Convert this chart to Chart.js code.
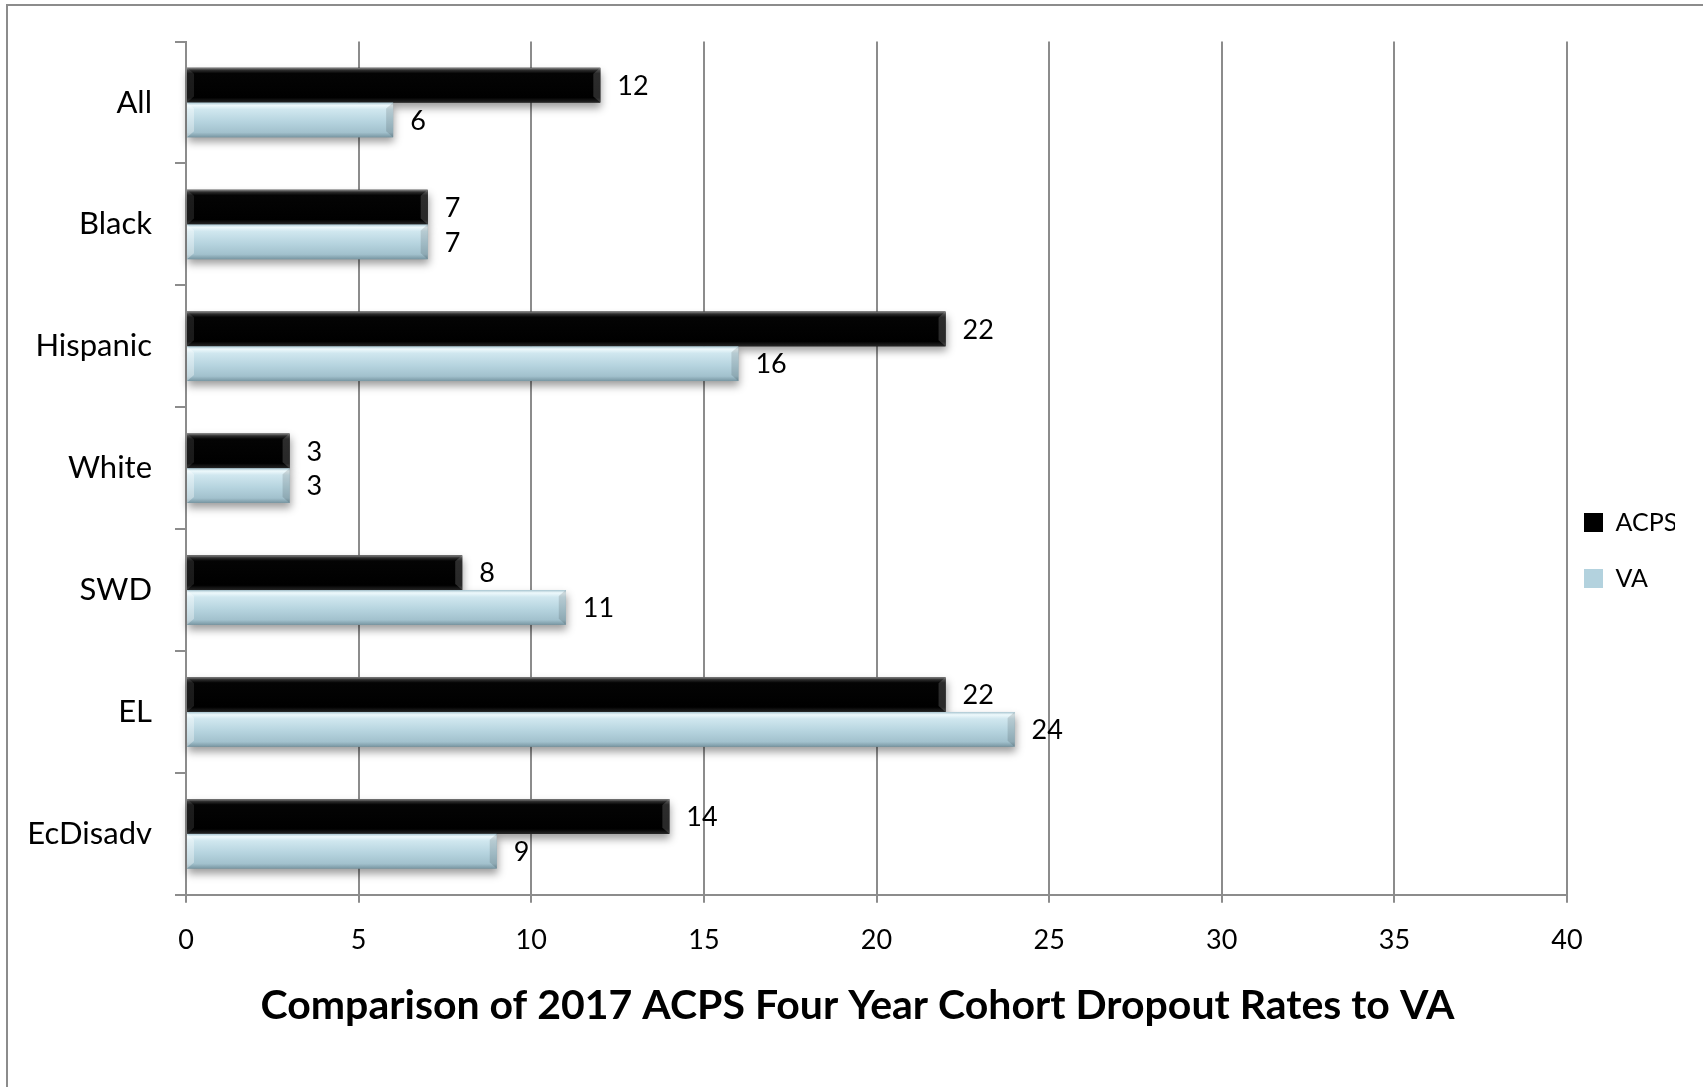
<!DOCTYPE html>
<html>
<head>
<meta charset="utf-8">
<script src="https://cdn.jsdelivr.net/npm/chart.js@4/dist/chart.umd.min.js"></script>
<style>
  body { margin: 0; background: #fff; }
  #wrap { position: relative; width: 1703px; height: 1087px; }
  #frame { position: absolute; left: 6px; top: 4px; right: -10px; bottom: -10px;
           border-left: 2px solid #8c8c8c; border-top: 2px solid #8c8c8c; }
  canvas { position: absolute; left: 0; top: 0; }
</style>
</head>
<body>
<div id="wrap">
  <canvas id="myChart" width="1703" height="1087"></canvas>
  <div id="frame"></div>
</div>
<script>
// chart data
var categories = ['All', 'Black', 'Hispanic', 'White', 'SWD', 'EL', 'EcDisadv'];
var acpsRates = [12, 7, 22, 3, 8, 22, 14];
var vaRates = [6, 7, 16, 3, 11, 24, 9];
var seriesNames = ['ACPS', 'VA'];
var xTicks = [0, 5, 10, 15, 20, 25, 30, 35, 40];
var chartTitle = 'Comparison of 2017 ACPS Four Year Cohort Dropout Rates to VA';

var gridGrey = '#8c8c8c';

// gradient stops per series, top -> bottom
var barStops = [
    [[0, '#8a8a8a'], [0.07, '#2c2c2c'], [0.16, '#040404'], [0.86, '#000000'], [1, '#262626']],
    [[0, '#a9c6d1'], [0.08, '#eef9fc'], [0.2, '#d0e7ef'], [0.55, '#b6d4df'], [0.86, '#a2c1cd'], [1, '#7896a2']]
];

// redraws every bar with a bevel look, then the value labels
var barLook = {
    id: 'barLook',
    afterLayout: function(chart) {
        // legend sits a bit closer to the plot (and higher) than its padding would put it
        chart.legend.left -= 14;
        chart.legend.right -= 14;
        chart.legend.top -= 12;
        chart.legend.bottom -= 12;
    },
    afterDatasetsDraw: function(chart) {
        var ctx = chart.ctx;
        for (var d = 0; d < chart.data.datasets.length; d++) {
            var meta = chart.getDatasetMeta(d);
            meta.data.forEach(function(bar) {
                var p = bar.getProps(['x', 'y', 'base', 'height'], true);
                var left = Math.min(p.base, p.x);
                var w = Math.abs(p.x - p.base);
                var top = p.y - p.height / 2;
                var g = ctx.createLinearGradient(0, top, 0, top + p.height);
                barStops[d].forEach(function(s) { g.addColorStop(s[0], s[1]); });
                ctx.save();
                ctx.shadowColor = 'rgba(0,0,0,0.38)';
                ctx.shadowBlur = 8;
                ctx.shadowOffsetY = 5;
                ctx.shadowOffsetX = 1;
                ctx.fillStyle = g;
                ctx.fillRect(left, top, w, p.height);
                ctx.restore();
                // bevelled ends
                ctx.save();
                ctx.fillStyle = d == 0 ? 'rgba(255,255,255,0.16)' : 'rgba(0,0,0,0.12)';
                ctx.beginPath();
                ctx.moveTo(left + w, top);
                ctx.lineTo(left + w - 7, top + 6);
                ctx.lineTo(left + w - 7, top + p.height - 6);
                ctx.lineTo(left + w, top + p.height);
                ctx.closePath();
                ctx.fill();
                ctx.fillStyle = d == 0 ? 'rgba(255,255,255,0.1)' : 'rgba(255,255,255,0.35)';
                ctx.beginPath();
                ctx.moveTo(left, top);
                ctx.lineTo(left + 7, top + 6);
                ctx.lineTo(left + 7, top + p.height - 6);
                ctx.lineTo(left, top + p.height);
                ctx.closePath();
                ctx.fill();
                ctx.restore();
            });
        }
        // value labels
        ctx.save();
        ctx.font = '27px Lato';
        ctx.fillStyle = '#000';
        ctx.textAlign = 'left';
        ctx.textBaseline = 'middle';
        for (var d2 = 0; d2 < chart.data.datasets.length; d2++) {
            var meta2 = chart.getDatasetMeta(d2);
            var vals = chart.data.datasets[d2].data;
            meta2.data.forEach(function(bar, i) {
                var p = bar.getProps(['x', 'y'], true);
                ctx.fillText(String(vals[i]), p.x + 17, p.y + 1);
            });
        }
        ctx.restore();
    }
};

var ctx = document.getElementById('myChart').getContext('2d');
var chart = new Chart(ctx, {
    type: 'bar',
    data: {
        labels: categories,
        datasets: [{
            label: seriesNames[0],
            data: acpsRates,
            backgroundColor: '#000000',
            borderWidth: 0
        }, {
            label: seriesNames[1],
            data: vaRates,
            backgroundColor: '#b3d2de',
            borderWidth: 0
        }]
    },
    options: {
        indexAxis: 'y',
        responsive: false,
        animation: false,
        events: [],
        categoryPercentage: 0.57,
        barPercentage: 1.0,
        layout: { padding: { left: 26, right: 14, top: 38, bottom: 0 } },
        scales: {
            x: {
                min: 0,
                max: 40,
                afterBuildTicks: function(scale) {
                    scale.ticks = xTicks.map(function(v) { return { value: v }; });
                },
                afterFit: function(scale) { scale.height = 70; },
                grid: { color: gridGrey, lineWidth: 2, tickLength: 8 },
                border: { color: gridGrey, width: 2 },
                ticks: { color: '#000', font: { family: 'Lato', size: 27 }, padding: 21 }
            },
            y: {
                afterFit: function(scale) { scale.width = 160; },
                grid: { color: gridGrey, lineWidth: 2, offset: true, drawOnChartArea: false, tickLength: 11 },
                border: { color: gridGrey, width: 2 },
                ticks: { color: '#000', font: { family: 'Lato', size: 31 }, padding: 23 }
            }
        },
        plugins: {
            legend: {
                position: 'right',
                maxWidth: 122,
                labels: {
                    boxWidth: 19,
                    boxHeight: 19,
                    padding: 31,
                    color: '#000',
                    font: { family: 'Lato', size: 25 }
                }
            },
            title: {
                display: true,
                position: 'bottom',
                text: chartTitle,
                color: '#000',
                font: { family: 'Lato', size: 41, weight: 'bold' },
                padding: { top: 16, bottom: 57 }
            },
            tooltip: { enabled: false }
        }
    },
    plugins: [barLook]
});
</script>
</body>
</html>
